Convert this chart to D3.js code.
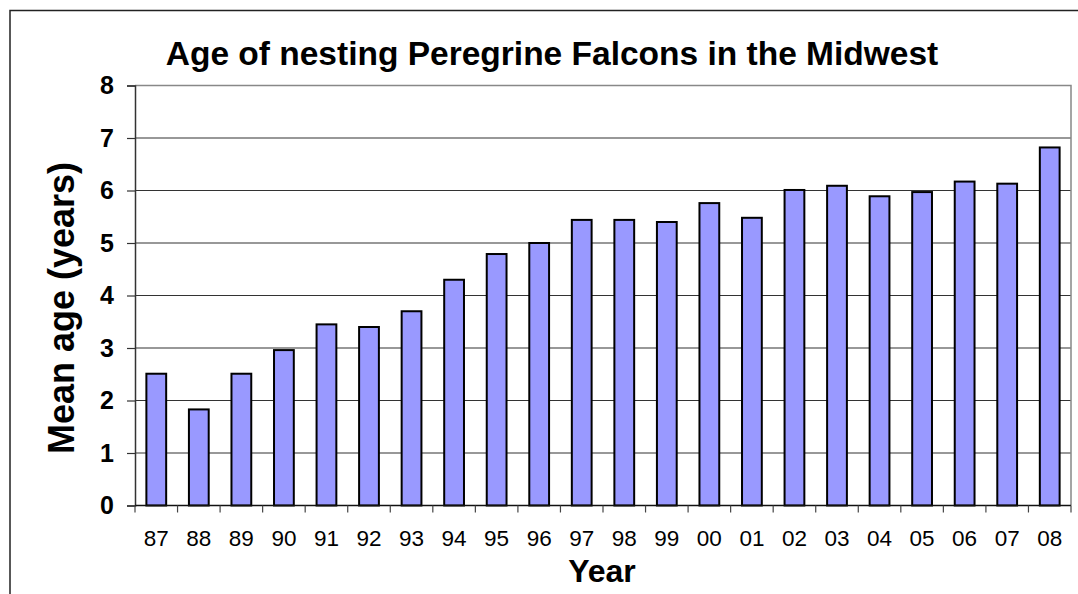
<!DOCTYPE html>
<meta charset="utf-8">
<html>
  <head>
    <title>Age of nesting Peregrine Falcons</title>
    <script src="https://d3js.org/d3.v7.min.js"></script>
    <style>
      body{margin:0;background:#fff;}
      text{font-family:Arial,"Liberation Sans",sans-serif;}
    </style>
  </head>
  <body>
    <div id="chart"></div>
  </body>
  <script>
    var width=1078,
        height=594;
    // data
    var years=["87","88","89","90","91","92","93","94","95","96","97","98","99","00","01","02","03","04","05","06","07","08"];
    var meanAge=[2.51,1.83,2.51,2.96,3.45,3.40,3.70,4.30,4.79,5.00,5.44,5.44,5.40,5.76,5.48,6.01,6.09,5.89,5.97,6.17,6.13,6.82];
    var yTicks=[0,1,2,3,4,5,6,7,8];

    var plot={left:135,right:1071,top:85.5,bottom:505.5};

    var svg=d3.select("#chart").append("svg")
        .attr("width",width)
        .attr("height",height);

    // outer frame (cropped at right/bottom)
    svg.append("rect")
      .attr("x",10).attr("y",10.5)
      .attr("width",1100).attr("height",700)
      .attr("fill","none").attr("stroke","#222").attr("stroke-width",1.5);

    var x=d3.scaleBand().domain(years)
        .range([plot.left,plot.right])
        .paddingInner(0.535).paddingOuter(0.2675);
    var y=d3.scaleLinear().domain([0,8]).range([plot.bottom,plot.top]);

    // gridlines
    svg.append("g").selectAll("line")
      .data(yTicks.slice(1,-1)).enter().append("line")
      .attr("x1",plot.left).attr("x2",plot.right)
      .attr("y1",function(d){return y(d)}).attr("y2",function(d){return y(d)})
      .attr("stroke","#333").attr("stroke-width",1.2);

    // plot border top + right (gray)
    svg.append("path")
      .attr("d","M"+plot.left+","+plot.top+"H"+plot.right+"V"+plot.bottom)
      .attr("fill","none").attr("stroke","#888").attr("stroke-width",1.5);

    // bars
    svg.append("g").selectAll("rect")
      .data(meanAge).enter().append("rect")
      .attr("x",function(d,i){return x(years[i])})
      .attr("y",function(d){return y(d)})
      .attr("width",x.bandwidth())
      .attr("height",function(d){return y(0)-y(d)})
      .attr("fill","#9999FF")
      .attr("stroke","#000")
      .attr("stroke-width",2);

    // y axis
    var yAxis=d3.axisLeft(y).tickValues(yTicks).tickSize(8).tickPadding(13);
    var gy=svg.append("g").attr("transform","translate("+plot.left+",0)").call(yAxis);
    gy.attr("font-size",null).attr("font-family",null);
    gy.select(".domain").attr("stroke","#333").attr("stroke-width",1.5);
    gy.selectAll(".tick line").attr("stroke","#333").attr("stroke-width",1.2);
    gy.selectAll("text")
      .attr("font-size",25).attr("font-weight","bold").attr("fill","#000");

    // x axis: ticks at band boundaries
    var step=x.step();
    var bounds=d3.range(years.length+1).map(function(i){return plot.left+i*step});
    var gx=svg.append("g");
    gx.append("line")
      .attr("x1",plot.left).attr("x2",plot.right)
      .attr("y1",plot.bottom).attr("y2",plot.bottom)
      .attr("stroke","#111").attr("stroke-width",1.5);
    gx.selectAll(".xt").data(bounds).enter().append("line").attr("class","xt")
      .attr("x1",function(d){return d}).attr("x2",function(d){return d})
      .attr("y1",plot.bottom).attr("y2",plot.bottom+7)
      .attr("stroke","#444").attr("stroke-width",1.2);
    gx.selectAll("text").data(years).enter().append("text")
      .text(function(d){return d})
      .attr("x",function(d){return x(d)+x.bandwidth()/2})
      .attr("y",545.5)
      .attr("text-anchor","middle")
      .attr("font-size",22.5)
      .attr("fill","#000");

    // titles
    svg.append("text")
      .text("Age of nesting Peregrine Falcons in the Midwest")
      .attr("x",552).attr("y",65)
      .attr("text-anchor","middle")
      .attr("font-size",33.5).attr("font-weight","bold");
    svg.append("text")
      .text("Year")
      .attr("x",602).attr("y",581.5)
      .attr("text-anchor","middle")
      .attr("font-size",32).attr("font-weight","bold");
    svg.append("text")
      .text("Mean age (years)")
      .attr("transform","translate(74,308) rotate(-90)")
      .attr("text-anchor","middle")
      .attr("font-size",36).attr("font-weight","bold");
  </script>
</html>
